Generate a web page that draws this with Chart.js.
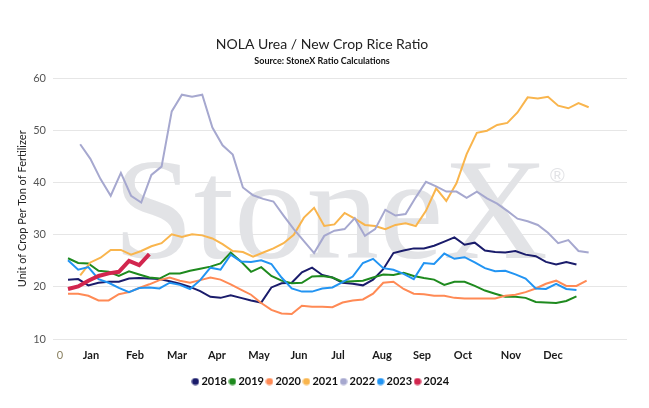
<!DOCTYPE html>
<html lang="en">

<head>
    <meta charset="UTF-8">
    <title>NOLA Urea / New Crop Rice Ratio</title>
    <script src="https://cdn.jsdelivr.net/npm/chart.js"></script>
    <style>
        html, body { margin: 0; padding: 0; background: #fff; }
        #wrap { width: 649px; height: 408px; }
    </style>
</head>

<body>
    <div id="wrap">
        <canvas id="ratioChart" width="649" height="408"></canvas>
    </div>
    <script>
        // x values are week numbers, counted from the first week of the year
        const years = ['2018', '2019', '2020', '2021', '2022', '2023', '2024'];
        const startWeek = [0, 0, 0, 1.2, 1.2, 0, 0];

        const y2018 = [21.4, 21.5, 20.3, 20.8, 21.0, 21.0, 21.6, 21.7, 21.6, 21.5, 21.1, 20.6, 20.0, 19.2, 18.1, 17.9, 18.4, 17.9, 17.4, 17.0,
            19.9, 20.7, 20.8, 22.8, 23.7, 22.3, 21.8, 20.8, 20.6, 20.3, 21.4, 23.4, 26.5, 27.0, 27.4, 27.4, 27.9, 28.7, 29.5, 28.1,
            28.5, 27.0, 26.7, 26.6, 26.9, 26.2, 25.9, 24.8, 24.3, 24.8, 24.3];
        const y2019 = [25.5, 24.6, 24.5, 23.1, 22.9, 22.1, 23.0, 22.4, 21.8, 21.6, 22.6, 22.6, 23.1, 23.5, 23.9, 24.5, 26.6, 24.9, 22.9, 23.8,
            22.1, 21.2, 20.7, 20.8, 22.0, 22.1, 21.8, 21.0, 21.1, 21.2, 21.8, 22.4, 22.3, 22.7, 22.1, 21.7, 21.4, 20.4, 21.0, 21.0,
            20.2, 19.3, 18.7, 18.1, 18.1, 17.9, 17.1, 17.0, 16.9, 17.3, 18.2];
        const y2020 = [18.7, 18.7, 18.3, 17.4, 17.4, 18.6, 19.0, 19.8, 20.5, 21.3, 21.8, 21.2, 20.8, 21.3, 21.8, 21.4, 20.5, 19.5, 18.5, 16.9,
            15.6, 14.9, 14.8, 16.4, 16.2, 16.2, 16.1, 17.0, 17.4, 17.6, 18.7, 20.8, 21.0, 19.6, 18.7, 18.6, 18.3, 18.3, 17.9, 17.8,
            17.8, 17.8, 17.8, 18.3, 18.5, 19.0, 19.7, 20.6, 21.2, 20.2, 20.2, 21.2];
        const y2021 = [22.2, 24.7, 25.6, 27.1, 27.1, 26.2, 26.9, 27.8, 28.4, 30.1, 29.6, 30.1, 29.9, 29.3, 28.2, 26.9, 26.7, 25.8, 26.6, 27.4,
            28.4, 30.0, 33.3, 35.2, 31.7, 32.0, 34.2, 33.1, 31.9, 31.7, 31.1, 31.9, 32.2, 31.7, 34.6, 38.9, 36.5, 39.9, 45.5, 49.6,
            50.0, 51.1, 51.5, 53.5, 56.4, 56.2, 56.5, 54.8, 54.3, 55.3, 54.5];
        const y2022 = [47.4, 44.6, 40.7, 37.5, 41.9, 37.5, 36.2, 41.5, 43.1, 53.7, 56.9, 56.5, 56.9, 50.6, 47.2, 45.4, 39.1, 37.6, 36.9, 36.4,
            33.7, 31.1, 28.8, 26.5, 29.8, 30.8, 31.1, 33.2, 29.8, 31.1, 34.8, 33.7, 34.0, 37.2, 40.2, 39.3, 38.3, 38.3, 37.1, 38.3,
            37.0, 36.0, 34.6, 33.1, 32.6, 31.9, 30.4, 28.4, 29.0, 26.9, 26.6];
        const y2023 = [25.1, 23.3, 23.8, 21.5, 20.8, 19.8, 19.0, 19.8, 19.9, 19.7, 20.8, 20.4, 19.6, 21.3, 23.7, 23.3, 26.2, 24.9, 24.8, 25.1,
            24.4, 21.8, 19.7, 19.1, 19.1, 19.7, 19.9, 20.9, 22.0, 24.6, 25.4, 23.6, 23.3, 22.5, 21.5, 24.6, 24.4, 26.4, 25.4, 25.7,
            24.7, 23.6, 23.0, 23.1, 22.4, 21.6, 19.7, 19.6, 20.6, 19.6, 19.4];
        const y2024 = [19.6, 20.1, 21.2, 22.1, 22.6, 22.9, 25.0, 24.2, 26.3];

        const seriesValues = [y2018, y2019, y2020, y2021, y2022, y2023, y2024];

        const monthLabels = ['0', 'Jan', 'Feb', 'Mar', 'Apr', 'May', 'Jun', 'Jul', 'Aug', 'Sep', 'Oct', 'Nov', 'Dec'];
        const monthTicks = [-0.8, 2.26, 6.59, 10.72, 14.65, 18.78, 22.71, 26.55, 30.88, 34.81, 38.84, 43.56, 47.69];
        const yTicks = [10, 20, 30, 40, 50, 60];

        const colors = ['#1a1c6b', '#1e8a1e', '#ff8a55', '#f9b54d', '#a6a8cf', '#2294f2', '#d2264e'];

        // small round swatch for the legend, so the dot sits close to its label
        function dot(color) {
            const c = document.createElement('canvas');
            c.width = 8;
            c.height = 8;
            const g = c.getContext('2d');
            g.fillStyle = color;
            g.beginPath();
            g.arc(4, 4, 3.6, 0, Math.PI * 2);
            g.fill();
            return c;
        }

        // big grey StoneX mark behind the lines
        const watermark = {
            id: 'watermark',
            beforeDatasetsDraw(chart) {
                const { ctx, chartArea } = chart;
                ctx.save();
                ctx.fillStyle = '#e2e3e6';
                ctx.textBaseline = 'alphabetic';
                ctx.font = '145px "Liberation Serif", "DejaVu Serif", serif';
                ctx.fillText('StoneX', chartArea.left + 60, chartArea.top + 179);
                ctx.font = '20px "Liberation Sans", sans-serif';
                ctx.fillText('®', chartArea.left + 497, chartArea.top + 103);
                ctx.restore();
            }
        };

        function renderChart() {
            const ctx = document.getElementById('ratioChart').getContext('2d');

            const datasets = years.map((yr, i) => ({
                label: yr,
                data: seriesValues[i].map((v, k) => ({ x: startWeek[i] + k, y: v })),
                borderColor: colors[i],
                backgroundColor: colors[i],
                borderWidth: yr === '2024' ? 4 : 2,
                pointRadius: 0,
                pointStyle: dot(colors[i]),
                tension: 0,
                order: years.length - 1 - i
            }));

            new Chart(ctx, {
                type: 'line',
                data: { datasets: datasets },
                plugins: [watermark],
                options: {
                    responsive: false,
                    animation: false,
                    layout: { padding: { left: 17, right: 22, top: 36, bottom: 11 } },
                    plugins: {
                        title: {
                            display: true,
                            text: 'NOLA Urea / New Crop Rice Ratio',
                            color: '#222',
                            font: { family: 'Lato', size: 14, weight: 'normal' },
                            padding: { top: 0, bottom: 2 }
                        },
                        subtitle: {
                            display: true,
                            text: 'Source: StoneX Ratio Calculations',
                            color: '#111',
                            font: { family: 'Lato', size: 9, weight: 'bold' },
                            padding: { top: 1, bottom: 12 }
                        },
                        legend: {
                            position: 'bottom',
                            labels: {
                                usePointStyle: true,
                                boxWidth: 1,
                                boxHeight: 5,
                                padding: 5,
                                color: '#111',
                                font: { family: 'Lato', size: 11, weight: 'bold' },
                                sort: (a, b) => a.datasetIndex - b.datasetIndex
                            }
                        },
                        tooltip: { enabled: false }
                    },
                    scales: {
                        x: {
                            type: 'linear',
                            min: -1.475,
                            max: 54.97,
                            grid: { display: false, drawTicks: false },
                            border: { display: false },
                            afterBuildTicks: scale => {
                                scale.ticks = monthTicks.map(v => ({ value: v }));
                            },
                            afterFit: scale => { scale.height = 32; },
                            ticks: {
                                autoSkip: false,
                                maxRotation: 0,
                                padding: 10,
                                color: c => (c.index === 0 ? '#8a8060' : '#1a1a1a'),
                                font: c => (c.index === 0
                                    ? { family: 'Lato', size: 11, weight: 'normal' }
                                    : { family: 'Lato', size: 11, weight: 'bold' }),
                                callback: (value, index) => monthLabels[index]
                            }
                        },
                        y: {
                            min: 10,
                            max: 60,
                            afterBuildTicks: scale => {
                                scale.ticks = yTicks.map(v => ({ value: v }));
                            },
                            afterFit: scale => { scale.width = 36; },
                            grid: { color: '#e6e6e6', drawTicks: false },
                            border: { display: false },
                            ticks: {
                                padding: 7,
                                color: '#555',
                                font: { family: 'Lato', size: 11 }
                            },
                            title: {
                                display: true,
                                text: 'Unit of Crop Per Ton of Fertilizer',
                                color: '#222',
                                font: { family: 'Lato', size: 11 },
                                padding: { top: -1, bottom: 0 }
                            }
                        }
                    }
                }
            });
        }

        renderChart();
    </script>

</body>

</html>
